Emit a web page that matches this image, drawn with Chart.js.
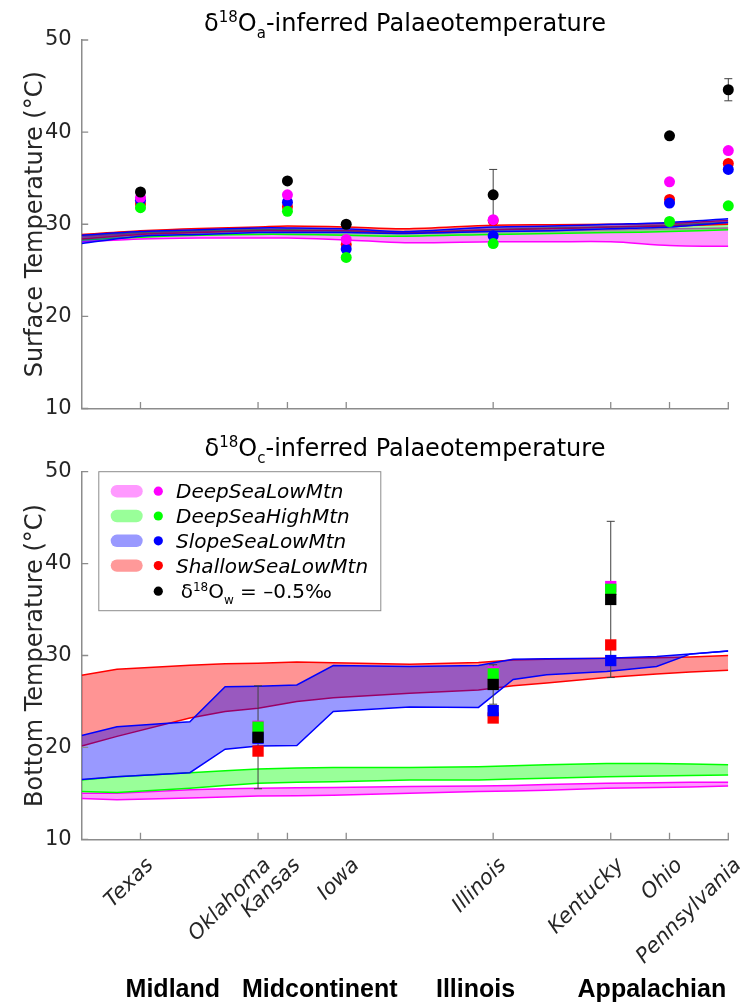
<!DOCTYPE html>
<html>
<head>
<meta charset="utf-8">
<script src="https://cdn.jsdelivr.net/npm/chart.js@4.4.1/dist/chart.umd.min.js"></script>
<style>
  body { margin: 0; background: #fff; }
  #wrap { position: relative; width: 747px; height: 1002px; }
  canvas { position: absolute; left: 0; }
  #topChart { top: 0; }
  #bottomChart { top: 420px; }
</style>
</head>
<body>
<div id="wrap">
  <canvas id="topChart" width="747" height="420"></canvas>
  <canvas id="bottomChart" width="747" height="582"></canvas>
</div>
<script>
// sites along the transect (x position on the axis)
const siteNames = ["Texas", "Oklahoma", "Kansas", "Iowa", "Illinois", "Kentucky", "Ohio", "Pennsylvania"];
const sitePos = [1, 3, 3.5, 4.5, 7, 9, 10, 11];
const basinNames = ["Midland", "Midcontinent", "Illinois", "Appalachian"];
const basinPos = [1.55, 4.05, 6.7, 9.7];
const yTicks = [10, 20, 30, 40, 50];

const scenarios = ["DeepSeaLowMtn", "DeepSeaHighMtn", "SlopeSeaLowMtn", "ShallowSeaLowMtn"];
const lineColors = ["#ff00ff", "#00ff00", "#0000ff", "#ff0000"];
const fillColors = ["rgba(255,0,255,0.4)", "rgba(0,255,0,0.4)", "rgba(0,0,255,0.4)", "rgba(255,0,0,0.42)"];
const swatchColors = ["#ff99ff", "#99ff99", "#9999ff", "#ff9999"];

// surface (d18Oa) reconstructions
const surfX = [1, 3.5, 4.5, 7, 10, 11];
const surfDeepLow = [32.9, 33.2, 28.35, 30.5, 34.6, 38.0];
const surfDeepHigh = [31.8, 31.4, 26.4, 27.9, 30.3, 32.0];
const surfSlopeLow = [32.6, 32.4, 27.3, 28.75, 32.3, 35.95];
const surfShallowLow = [32.2, 31.9, 27.8, 30.4, 32.7, 36.6];
const surfW = [33.5, 34.7, 30.0, 33.2, 39.6, 44.6];
const surfWErr = [0, 0, 0, 2.75, 0, 1.2];

// surface model bands
const bandTopX = [0, 1, 2, 3, 3.5, 4.5, 5.5, 7, 8, 9, 10, 11];
const topDeepLowHi = [28.7, 29.0, 29.2, 29.3, 29.3, 29.2, 29.0, 29.2, 29.3, 29.4, 29.5, 29.6];
const topDeepLowLo = [28.1, 28.4, 28.5, 28.5, 28.5, 28.3, 28.0, 28.1, 28.1, 28.1, 27.7, 27.6];
const topDeepHighHi = [28.8, 29.1, 29.3, 29.4, 29.4, 29.3, 29.1, 29.4, 29.6, 29.7, 29.9, 30.2];
const topDeepHighLo = [28.3, 28.6, 28.8, 28.9, 28.9, 28.8, 28.7, 28.9, 29.0, 29.1, 29.2, 29.4];
const topSlopeLowHi = [28.8, 29.2, 29.4, 29.6, 29.6, 29.5, 29.2, 29.7, 29.8, 30.0, 30.2, 30.6];
const topSlopeLowLo = [27.9, 28.7, 28.9, 29.1, 29.1, 29.1, 29.0, 29.2, 29.3, 29.5, 29.7, 30.2];
const topShallowLowHi = [28.9, 29.3, 29.55, 29.7, 29.8, 29.7, 29.5, 29.9, 29.95, 30.0, 30.1, 30.4];
const topShallowLowLo = [28.4, 28.9, 29.1, 29.3, 29.3, 29.3, 29.1, 29.4, 29.5, 29.7, 29.8, 30.0];

// bottom water (d18Oc) reconstructions
const botX = [3, 7, 9];
const botDeepLow = [22.3, 28.2, 37.5];
const botDeepHigh = [22.2, 28.0, 37.2];
const botSlopeLow = [21.0, 24.0, 29.45];
const botShallowLow = [19.6, 23.2, 31.15];
const botW = [21.1, 26.85, 36.1];
const botWErr = [5.6, 2.15, 8.5];

// bottom model bands
const bandBotX = [0, 0.6, 1.84, 2.44, 3.0, 3.66, 4.28, 5.58, 6.75, 7.34, 7.91, 8.93, 9.78, 10.35, 11];
const botSlopeLowHi = [21.3, 22.25, 22.8, 26.6, 26.65, 26.8, 28.9, 28.8, 28.9, 29.6, 29.65, 29.7, 29.9, 30.15, 30.5];
const botSlopeLowLo = [16.5, 16.8, 17.25, 19.8, 20.15, 20.2, 23.9, 24.4, 24.35, 27.4, 27.9, 28.25, 28.8, 30.15, 30.5];
const botShallowLowHi = [27.85, 28.5, 28.95, 29.1, 29.15, 29.3, 29.2, 29.05, 29.25, 29.5, 29.6, 29.7, 29.75, 29.85, 30.0];
const botShallowLowLo = [20.15, 21.2, 23.2, 23.9, 24.25, 25.0, 25.4, 25.9, 26.25, 26.7, 27.0, 27.6, 28.0, 28.2, 28.4];
const botDeepHighHi = [16.45, 16.8, 17.25, 17.45, 17.65, 17.75, 17.8, 17.8, 17.9, 18.0, 18.1, 18.25, 18.25, 18.2, 18.1];
const botDeepHighLo = [15.2, 15.1, 15.55, 15.85, 16.1, 16.2, 16.25, 16.45, 16.45, 16.55, 16.65, 16.8, 16.9, 16.95, 17.0];
const botDeepLowHi = [15.0, 15.0, 15.4, 15.5, 15.55, 15.6, 15.65, 15.75, 15.8, 15.85, 15.95, 16.1, 16.15, 16.2, 16.2];
const botDeepLowLo = [14.45, 14.3, 14.5, 14.6, 14.7, 14.75, 14.8, 15.0, 15.2, 15.25, 15.35, 15.55, 15.65, 15.7, 15.8];

const topTitle = [["δ", ""], ["18", "sup"], ["O", ""], ["a", "sub"], ["-inferred Palaeotemperature", ""]];
const botTitle = [["δ", ""], ["18", "sup"], ["O", ""], ["c", "sub"], ["-inferred Palaeotemperature", ""]];
const waterLabel = [["δ", ""], ["18", "sup"], ["O", ""], ["w", "sub"], [" = –0.5‰", ""]];

const axisColor = "#8c8c8c";
const textColor = "#262626";
Chart.defaults.font.family = "'DejaVu Sans', sans-serif";

function xy(xs, ys) {
  return xs.map((x, i) => ({ x: x, y: ys[i] }));
}

function band(xs, lo, hi, k, order, tension) {
  const common = { borderColor: lineColors[k], borderWidth: 1.5, pointRadius: 0, tension: tension, order: order };
  return [
    Object.assign({ data: xy(xs, lo), fill: false }, common),
    Object.assign({ data: xy(xs, hi), fill: "-1", backgroundColor: fillColors[k] }, common)
  ];
}

function dots(xs, ys, color, style, radius, order) {
  return {
    data: xy(xs, ys), showLine: false, clip: false, order: order,
    pointStyle: style, pointRadius: radius, pointBackgroundColor: color, pointBorderWidth: 0
  };
}

function errBars(xs, ys, errs, order) {
  const pts = [];
  xs.forEach((x, i) => {
    if (!errs[i]) return;
    pts.push({ x: x, y: ys[i] - errs[i] }, { x: x, y: ys[i] + errs[i] }, { x: x, y: null });
  });
  return {
    data: pts, borderColor: "#404040", borderWidth: 1, spanGaps: false, clip: false, order: order,
    pointStyle: "line", pointRadius: 4, pointBorderColor: "#404040", pointBorderWidth: 1
  };
}

function drawRich(ctx, parts, x, y, size, align, style) {
  const fontFor = k => (style || "normal") + " " + (k ? Math.round(size * 0.62) : size) + "px 'DejaVu Sans'";
  let total = 0;
  parts.forEach(p => { ctx.font = fontFor(p[1]); total += ctx.measureText(p[0]).width; });
  let cx = align === "center" ? x - total / 2 : x;
  ctx.textAlign = "left";
  ctx.textBaseline = "alphabetic";
  parts.forEach(p => {
    ctx.font = fontFor(p[1]);
    const dy = p[1] === "sup" ? -size * 0.38 : p[1] === "sub" ? size * 0.28 : 0;
    ctx.fillText(p[0], cx, y + dy);
    cx += ctx.measureText(p[0]).width;
  });
}

const richTitle = {
  id: "richTitle",
  afterDraw(chart, args, opts) {
    const a = chart.chartArea;
    chart.ctx.save();
    chart.ctx.fillStyle = "#000";
    drawRich(chart.ctx, opts.parts, (a.left + a.right) / 2, opts.y, 24, "center");
    chart.ctx.restore();
  }
};

// MATLAB style ticks pointing into the axes
const innerTicks = {
  id: "innerTicks",
  afterDatasetsDraw(chart) {
    const { ctx, chartArea: a, scales } = chart;
    ctx.save();
    ctx.strokeStyle = axisColor;
    ctx.lineWidth = 1.3;
    ctx.beginPath();
    sitePos.forEach(v => {
      const px = scales.x.getPixelForValue(v);
      ctx.moveTo(px, a.bottom);
      ctx.lineTo(px, a.bottom - 6.5);
    });
    yTicks.forEach(v => {
      const py = scales.y.getPixelForValue(v);
      ctx.moveTo(a.left, py);
      ctx.lineTo(a.left + 6.5, py);
    });
    ctx.stroke();
    ctx.restore();
  }
};

const legendBox = {
  id: "legendBox",
  afterDraw(chart) {
    const { ctx, chartArea: a } = chart;
    const left = a.left + 16.6, top = a.top - 0.5, w = 282, h = 139;
    ctx.save();
    ctx.fillStyle = "#fff";
    ctx.fillRect(left, top, w, h);
    ctx.strokeStyle = axisColor;
    ctx.lineWidth = 1;
    ctx.strokeRect(left + 0.5, top + 0.5, w, h);
    scenarios.forEach((name, i) => {
      const cy = top + 20 + i * 24.8;
      ctx.fillStyle = swatchColors[i];
      ctx.beginPath();
      ctx.roundRect(left + 12.4, cy - 6.2, 32, 12.4, 6.2);
      ctx.fill();
      ctx.fillStyle = lineColors[i];
      ctx.beginPath();
      ctx.arc(left + 60, cy, 4.6, 0, Math.PI * 2);
      ctx.fill();
      ctx.fillStyle = "#000";
      ctx.font = "italic 20px 'DejaVu Sans'";
      ctx.textAlign = "left";
      ctx.textBaseline = "alphabetic";
      ctx.fillText(name, left + 77.7, cy + 7);
    });
    const cy = top + 120;
    ctx.fillStyle = "#000";
    ctx.beginPath();
    ctx.arc(left + 60, cy, 4.6, 0, Math.PI * 2);
    ctx.fill();
    drawRich(ctx, waterLabel, left + 82.4, cy + 7, 20, "left");
    ctx.restore();
  }
};

const basinLabels = {
  id: "basinLabels",
  afterDraw(chart) {
    const { ctx, scales } = chart;
    ctx.save();
    ctx.fillStyle = "#000";
    ctx.font = "bold 25px 'Liberation Sans', Arial";
    ctx.textAlign = "center";
    ctx.textBaseline = "alphabetic";
    basinNames.forEach((n, i) => ctx.fillText(n, scales.x.getPixelForValue(basinPos[i]), 576.5));
    ctx.restore();
  }
};

function makeOptions(yTitle, top, xHeight, showX, titleParts, titleY) {
  return {
    responsive: false,
    animation: false,
    events: [],
    layout: { padding: { left: 0, right: 18.7, top: top, bottom: 0 } },
    plugins: {
      legend: { display: false },
      tooltip: { enabled: false },
      richTitle: { parts: titleParts, y: titleY }
    },
    scales: {
      x: {
        type: "linear", min: 0, max: 11,
        afterBuildTicks: s => { s.ticks = sitePos.map(v => ({ value: v })); },
        afterFit: s => { s.height = xHeight; s.paddingLeft = 0; s.paddingRight = 0; },
        grid: { drawOnChartArea: false, drawTicks: false },
        border: { color: axisColor, width: 1.5 },
        ticks: {
          display: showX, autoSkip: false, minRotation: 45, maxRotation: 45,
          padding: 14, labelOffset: 10, color: textColor,
          font: { size: 21, style: "italic" },
          callback: (v, i) => siteNames[i]
        }
      },
      y: {
        min: 10, max: 50,
        afterBuildTicks: s => { s.ticks = yTicks.map(v => ({ value: v })); },
        afterFit: s => { s.width = 81.7; s.paddingTop = 0; s.paddingBottom = 0; },
        grid: { drawOnChartArea: false, drawTicks: false },
        border: { color: axisColor, width: 1.5 },
        ticks: { padding: 10, color: textColor, font: { size: 21 } },
        title: { display: true, text: yTitle, color: textColor, font: { size: 24 }, padding: { top: 21, bottom: 0 } }
      }
    }
  };
}

new Chart(document.getElementById("topChart"), {
  type: "line",
  data: {
    datasets: [
      dots(surfX, surfW, "#000", "circle", 5.5, 0),
      dots(surfX, surfDeepHigh, lineColors[1], "circle", 5.5, 1),
      dots(surfX, surfDeepLow, lineColors[0], "circle", 5.5, 2),
      dots(surfX, surfSlopeLow, lineColors[2], "circle", 5.5, 3),
      dots(surfX, surfShallowLow, lineColors[3], "circle", 5.5, 4),
      errBars(surfX, surfW, surfWErr, 5),
      ...band(bandTopX, topSlopeLowLo, topSlopeLowHi, 2, 6, 0.3),
      ...band(bandTopX, topShallowLowLo, topShallowLowHi, 3, 7, 0.3),
      ...band(bandTopX, topDeepHighLo, topDeepHighHi, 1, 8, 0.3),
      ...band(bandTopX, topDeepLowLo, topDeepLowHi, 0, 9, 0.3)
    ]
  },
  options: makeOptions("Surface Temperature (°C)", 40, 11.5, false, topTitle, 31),
  plugins: [richTitle, innerTicks]
});

new Chart(document.getElementById("bottomChart"), {
  type: "line",
  data: {
    datasets: [
      dots(botX, botW, "#000", "rect", 8, 0),
      dots(botX, botDeepHigh, lineColors[1], "rect", 8, 1),
      dots(botX, botDeepLow, lineColors[0], "rect", 8, 2),
      dots(botX, botSlopeLow, lineColors[2], "rect", 8, 3),
      dots(botX, botShallowLow, lineColors[3], "rect", 8, 4),
      errBars(botX, botW, botWErr, 5),
      ...band(bandBotX, botSlopeLowLo, botSlopeLowHi, 2, 6, 0),
      ...band(bandBotX, botShallowLowLo, botShallowLowHi, 3, 7, 0),
      ...band(bandBotX, botDeepHighLo, botDeepHighHi, 1, 8, 0),
      ...band(bandBotX, botDeepLowLo, botDeepLowHi, 0, 9, 0)
    ]
  },
  options: makeOptions("Bottom Temperature (°C)", 51.7, 162.7, true, botTitle, 36),
  plugins: [richTitle, innerTicks, legendBox, basinLabels]
});
</script>
</body>
</html>
